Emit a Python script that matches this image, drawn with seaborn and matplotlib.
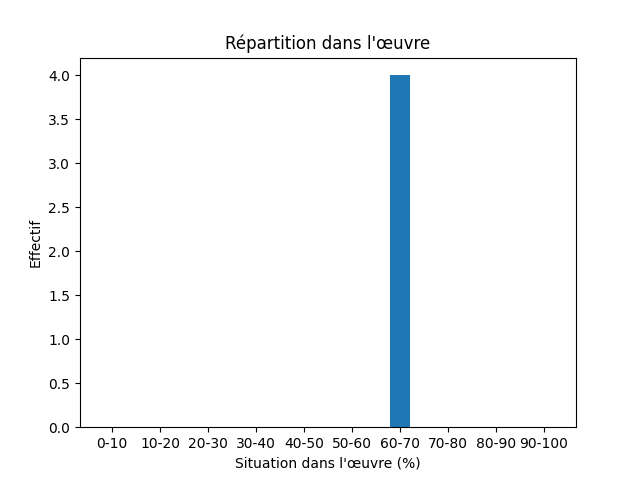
import matplotlib
matplotlib.use("Agg")
import matplotlib.pyplot as plt
import seaborn as sns

# Data
categories = ['0-10', '10-20', '20-30', '30-40', '40-50',
              '50-60', '60-70', '70-80', '80-90', '90-100']
values = [0, 0, 0, 0, 0, 0, 4, 0, 0, 0]


def main() -> None:
    fig, ax = plt.subplots(figsize=(6.4, 4.8), dpi=100)
    sns.barplot(x=categories, y=values, width=0.4, color='#1f77b4',
                saturation=1, ax=ax)
    # mimic matplotlib's default 5% margin around the bars
    ax.set_xlim(-0.2 - 0.47, 9.2 + 0.47)
    ax.set_ylim(0, 4.2)
    ax.set_title("Répartition dans l'œuvre")
    ax.set_xlabel("Situation dans l'œuvre (%)")
    ax.set_ylabel('Effectif')
    fig.savefig('out.png')


if __name__ == "__main__":
    main()
